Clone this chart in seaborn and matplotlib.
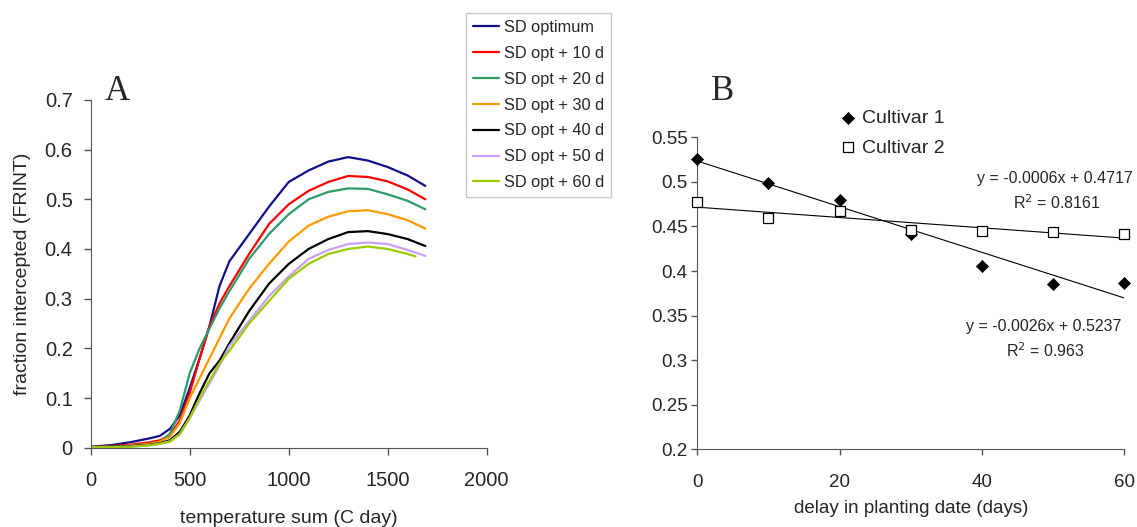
import numpy as np
import pandas as pd
import seaborn as sns
import matplotlib.pyplot as plt

# Panel A: fraction of radiation intercepted vs temperature sum
temp_sum = [0, 100, 200, 300, 350, 400, 450, 500, 550, 600, 650, 700,
            800, 900, 1000, 1100, 1200, 1300, 1400, 1500, 1600, 1690]
temp_sum_60 = temp_sum[:-1] + [1640]

sd_opt = [0.002, 0.005, 0.011, 0.019, 0.024, 0.038, 0.065, 0.12, 0.18, 0.245, 0.325, 0.375,
          0.43, 0.485, 0.535, 0.558, 0.576, 0.585, 0.578, 0.565, 0.548, 0.527]
sd_10 = [0.001, 0.003, 0.006, 0.011, 0.015, 0.025, 0.055, 0.11, 0.18, 0.245, 0.29, 0.325,
         0.39, 0.45, 0.49, 0.517, 0.535, 0.547, 0.545, 0.536, 0.52, 0.50]
sd_20 = [0.001, 0.002, 0.004, 0.008, 0.012, 0.028, 0.075, 0.15, 0.20, 0.24, 0.28, 0.315,
         0.38, 0.43, 0.47, 0.50, 0.515, 0.522, 0.521, 0.51, 0.497, 0.48]
sd_30 = [0.001, 0.002, 0.004, 0.008, 0.012, 0.022, 0.05, 0.10, 0.14, 0.18, 0.22, 0.26,
         0.32, 0.37, 0.415, 0.447, 0.465, 0.476, 0.478, 0.47, 0.458, 0.441]
sd_40 = [0.001, 0.002, 0.003, 0.006, 0.009, 0.015, 0.032, 0.065, 0.11, 0.15, 0.175, 0.21,
         0.275, 0.33, 0.37, 0.40, 0.42, 0.434, 0.436, 0.43, 0.42, 0.406]
sd_50 = [0.001, 0.001, 0.002, 0.005, 0.008, 0.013, 0.028, 0.06, 0.095, 0.13, 0.165, 0.205,
         0.255, 0.305, 0.345, 0.38, 0.398, 0.41, 0.413, 0.41, 0.398, 0.386]
sd_60 = [0.001, 0.001, 0.002, 0.005, 0.008, 0.012, 0.027, 0.06, 0.10, 0.135, 0.17, 0.195,
         0.25, 0.295, 0.34, 0.37, 0.39, 0.40, 0.405, 0.40, 0.39, 0.385]

series_names = ["SD optimum", "SD opt + 10 d", "SD opt + 20 d", "SD opt + 30 d",
                "SD opt + 40 d", "SD opt + 50 d", "SD opt + 60 d"]
series_vals = [sd_opt, sd_10, sd_20, sd_30, sd_40, sd_50, sd_60]
series_x = [temp_sum] * 6 + [temp_sum_60]
colors = ["#10108a", "#ff0000", "#2e9a6a", "#ff9900", "#000000", "#c9a0f5", "#99cc00"]

# Panel B: FRINT vs planting delay
delay = [0, 10, 20, 30, 40, 50, 60]
cult1 = [0.526, 0.499, 0.480, 0.442, 0.406, 0.386, 0.387]
cult2 = [0.477, 0.460, 0.467, 0.446, 0.445, 0.444, 0.441]

rows = []
for name, xs, ys in zip(series_names, series_x, series_vals):
    for x, y in zip(xs, ys):
        rows.append({"series": name, "temp": x, "frint": y})
df_a = pd.DataFrame(rows)

sns.set_style("ticks")
plt.rcParams["font.family"] = ["Liberation Sans", "DejaVu Sans"]

fig = plt.figure(figsize=(11.37, 5.27), dpi=100)
ax_a = fig.add_axes([0.0798, 0.1505, 0.3483, 0.6598])
ax_b = fig.add_axes([0.6133, 0.1474, 0.3756, 0.592])

sns.lineplot(data=df_a, x="temp", y="frint", hue="series", hue_order=series_names,
             palette=colors, estimator=None, linewidth=1.6, ax=ax_a)
handles, labels = ax_a.get_legend_handles_labels()
ax_a.get_legend().remove()
ax_a.set_xlim(0, 2000)
ax_a.set_ylim(0, 0.7)
ax_a.set_xticks([0, 500, 1000, 1500, 2000])
ax_a.set_yticks(np.arange(0, 0.71, 0.1))
ax_a.set_yticklabels(["0", "0.1", "0.2", "0.3", "0.4", "0.5", "0.6", "0.7"])
ax_a.set_xlabel("temperature sum (C day)", fontsize=14, labelpad=14)
ax_a.set_ylabel("fraction intercepted (FRINT)", fontsize=14, labelpad=10)
ax_a.tick_params(axis="both", labelsize=14.5, length=5, width=1, color="#555555")
ax_a.tick_params(axis="x", pad=12)
ax_a.tick_params(axis="y", pad=8)
for s in ["left", "bottom"]:
    ax_a.spines[s].set_color("#555555")
sns.despine(ax=ax_a)

fig.legend(handles, labels, loc="upper left", bbox_to_anchor=(0.4096, 0.9748),
           fontsize=11.8, frameon=True, fancybox=False, edgecolor="#bbbbbb",
           handlelength=1.63, handletextpad=0.27, labelspacing=0.66,
           borderpad=0.42, borderaxespad=0)

# Panel B
sns.scatterplot(x=delay, y=cult1, marker="D", s=38, color="black", edgecolor="black",
                ax=ax_b, label="Cultivar 1", zorder=3)
sns.scatterplot(x=delay, y=cult2, marker="s", s=48, facecolor="white", edgecolor="black",
                linewidth=0.9, ax=ax_b, label="Cultivar 2", zorder=3)
xx = np.array([0, 60])
for ys in [cult1, cult2]:
    m, b = np.polyfit(delay, ys, 1)
    sns.lineplot(x=xx, y=m * xx + b, color="black", linewidth=0.8, ax=ax_b, zorder=2)

ax_b.set_xlim(0, 60)
ax_b.set_ylim(0.2, 0.55)
ax_b.set_xticks([0, 20, 40, 60])
ax_b.set_yticks(np.arange(0.2, 0.551, 0.05))
ax_b.set_yticklabels(["0.2", "0.25", "0.3", "0.35", "0.4", "0.45", "0.5", "0.55"])
ax_b.set_xlabel("delay in planting date (days)", fontsize=13.5, labelpad=6)
ax_b.set_ylabel("")
ax_b.tick_params(axis="both", labelsize=13.5, length=4, width=1, color="#555555")
ax_b.tick_params(axis="x", pad=14)
ax_b.tick_params(axis="y", pad=3)
for s in ["left", "bottom"]:
    ax_b.spines[s].set_color("#555555")
sns.despine(ax=ax_b)
for c in ax_b.collections:
    c.set_clip_on(False)

ax_b.legend(loc="upper left", bbox_to_anchor=(0.32, 1.115), frameon=False, fontsize=14,
            handlelength=0.6, handletextpad=0.45, labelspacing=0.62, borderaxespad=0)

ax_b.text(50.3, 0.5043, "y = -0.0006x + 0.4717", ha="center", va="center", fontsize=11.5)
ax_b.text(50.5, 0.4763, "R$^2$ = 0.8161", ha="center", va="center", fontsize=11.5)
ax_b.text(48.6, 0.3375, "y = -0.0026x + 0.5237", ha="center", va="center", fontsize=11.5)
ax_b.text(48.9, 0.3106, "R$^2$ = 0.963", ha="center", va="center", fontsize=11.5)

fig.text(116.7 / 1137, 1 - 92 / 527, "A", family=["Liberation Serif"], fontsize=25,
         ha="center", va="center")
fig.text(723 / 1137, 1 - 92 / 527, "B", family=["Liberation Serif"], fontsize=25,
         ha="center", va="center")

fig.savefig("out.png", dpi=100)
